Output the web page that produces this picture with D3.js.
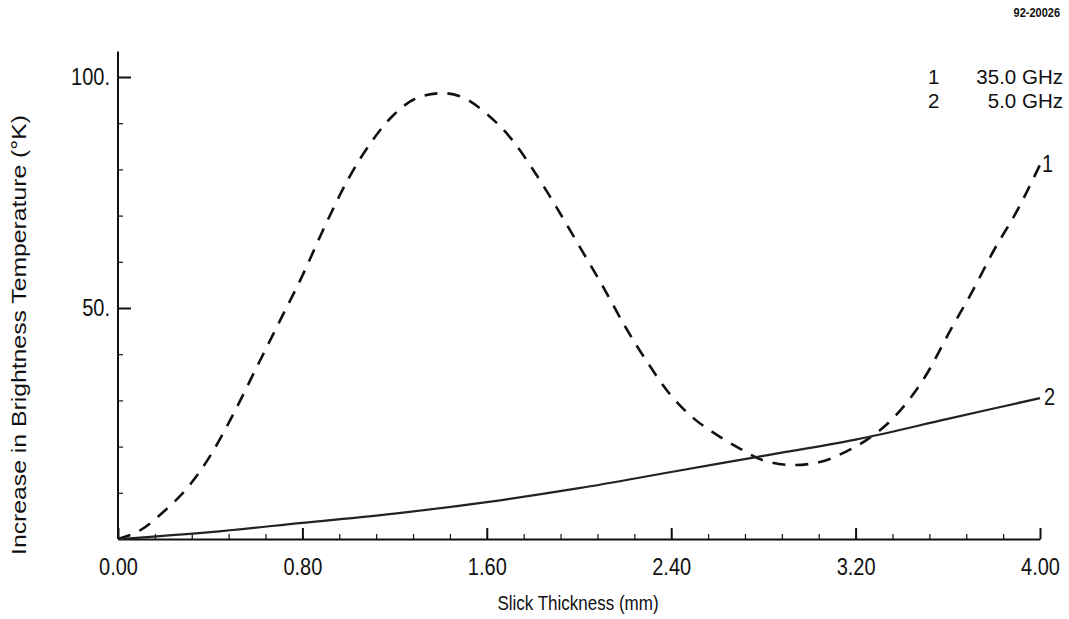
<!DOCTYPE html>
<meta charset="utf-8">
<style>
body { margin: 0; background: #fff; }
svg text { font-family: "Liberation Sans", Arial, sans-serif; fill: #111; }
.axis path, .axis line { stroke: #111; stroke-width: 2; }
.minor line { stroke: #111; stroke-width: 1.2; }
</style>
<svg id="chart" width="1069" height="619"></svg>
<script src="https://d3js.org/d3.v7.min.js"></script>
<script>

// slick thickness (mm) and brightness temperature increase (K)
var ghz35X = [0, 0.1, 0.2, 0.3, 0.4, 0.5, 0.6, 0.7, 0.8, 0.9, 1.0, 1.1, 1.2, 1.3, 1.41, 1.5, 1.6, 1.7, 1.8, 1.9, 2.0,
              2.1, 2.2, 2.3, 2.4, 2.5, 2.6, 2.7, 2.8, 2.93, 3.05, 3.15, 3.25, 3.35, 3.5, 3.62, 3.7, 3.8, 3.9, 4.0];
var ghz35Y = [0, 2, 6, 11, 18, 27, 37, 47, 57, 68, 78, 86, 92, 95.5, 96.5, 95.5, 92, 87, 80, 72, 63.5,
              55, 46, 38, 31, 26, 22.5, 19.5, 17, 16, 16.7, 18.7, 21.5, 25.5, 35, 46, 53, 62.5, 71, 81];

var ghz5X = [0, 0.4, 0.8, 1.2, 1.6, 2.0, 2.4, 2.8, 3.2, 3.6, 4.0];
var ghz5Y = [0, 1.5, 3.5, 5.5, 8, 11, 14.5, 18, 21.5, 26, 30.5];

var xTicks = [0, 0.8, 1.6, 2.4, 3.2, 4.0];
var yTicks = [50, 100];
var legendLines = [["1", "35.0 GHz"], ["2", "5.0 GHz"]];

var svg = d3.select("#chart");

var x = d3.scaleLinear().domain([0, 4]).range([118, 1040]);
var y = d3.scaleLinear().domain([0, 100]).range([539, 77]);

// the scan is a bit taller than wide, so text gets stretched vertically
function tallText(sel, px, py, size, sx, sy) {
    return sel.attr("transform", "translate(" + px + "," + py + ") scale(" + (sx || 1) + "," + (sy || 1.2) + ")")
        .style("font-size", size + "px");
}

// x axis, ticks point inward
var xAxis = svg.append("g")
    .attr("class", "axis")
    .attr("transform", "translate(0," + y(0) + ")")
    .call(d3.axisBottom(x).tickValues(xTicks).tickSize(-11).tickSizeOuter(0).tickFormat(d3.format(".2f")));
xAxis.selectAll("text")
    .attr("y", 16).attr("dy", "0.71em")
    .attr("transform", "scale(1,1.2)")
    .style("font-size", "20px");

svg.append("g")
    .attr("class", "minor")
    .attr("transform", "translate(0," + y(0) + ")")
    .call(d3.axisBottom(x).tickValues(d3.range(0.16, 4, 0.16)).tickSize(-5).tickFormat(""))
    .select(".domain").remove();

// y axis
var yAxis = svg.append("g")
    .attr("class", "axis")
    .attr("transform", "translate(" + x(0) + ",0)")
    .call(d3.axisLeft(y).tickValues(yTicks).tickSize(-13).tickSizeOuter(0).tickFormat(function(d) { return d + "."; }));
yAxis.select(".domain").attr("d", "M0," + y(0) + "V" + y(105.5));
yAxis.selectAll("text")
    .attr("x", -8)
    .attr("transform", "scale(1,1.2)")
    .style("font-size", "20px");

svg.append("g")
    .attr("class", "minor")
    .attr("transform", "translate(" + x(0) + ",0)")
    .call(d3.axisLeft(y).tickValues([10, 20, 30, 40, 60, 70, 80, 90]).tickSize(-5).tickFormat(""))
    .select(".domain").remove();

var line = d3.line()
    .x(function(d) { return x(d[0]); })
    .y(function(d) { return y(d[1]); })
    .curve(d3.curveMonotoneX);

svg.append("path")
    .datum(d3.zip(ghz35X, ghz35Y))
    .attr("d", line)
    .attr("fill", "none")
    .attr("stroke", "#111")
    .attr("stroke-width", 2.6)
    .attr("stroke-dasharray", "13,10");

svg.append("path")
    .datum(d3.zip(ghz5X, ghz5Y))
    .attr("d", line)
    .attr("fill", "none")
    .attr("stroke", "#222")
    .attr("stroke-width", 2.2);

// curve labels
tallText(svg.append("text"), x(4) + 2, y(ghz35Y[ghz35Y.length - 1]) + 7, 20).text("1");
tallText(svg.append("text"), x(4) + 4, y(ghz5Y[ghz5Y.length - 1]) + 7, 20).text("2");

// legend
legendLines.forEach(function(l, i) {
    tallText(svg.append("text"), 928, 84 + i * 24, 19, 1.08, 1.08).text(l[0]);
    tallText(svg.append("text"), 1063, 84 + i * 24, 19, 1.08, 1.08).attr("text-anchor", "end").text(l[1]);
});

tallText(svg.append("text"), 1060, 17, 11)
    .attr("text-anchor", "end")
    .style("font-weight", "bold")
    .text("92-20026");

tallText(svg.append("text"), 578, 610, 17)
    .attr("text-anchor", "middle")
    .text("Slick Thickness (mm)");

svg.append("text")
    .attr("transform", "translate(26,335) rotate(-90)")
    .attr("text-anchor", "middle")
    .attr("textLength", 440)
    .attr("lengthAdjust", "spacingAndGlyphs")
    .style("font-size", "20px")
    .text("Increase in Brightness Temperature (°K)");

</script>
